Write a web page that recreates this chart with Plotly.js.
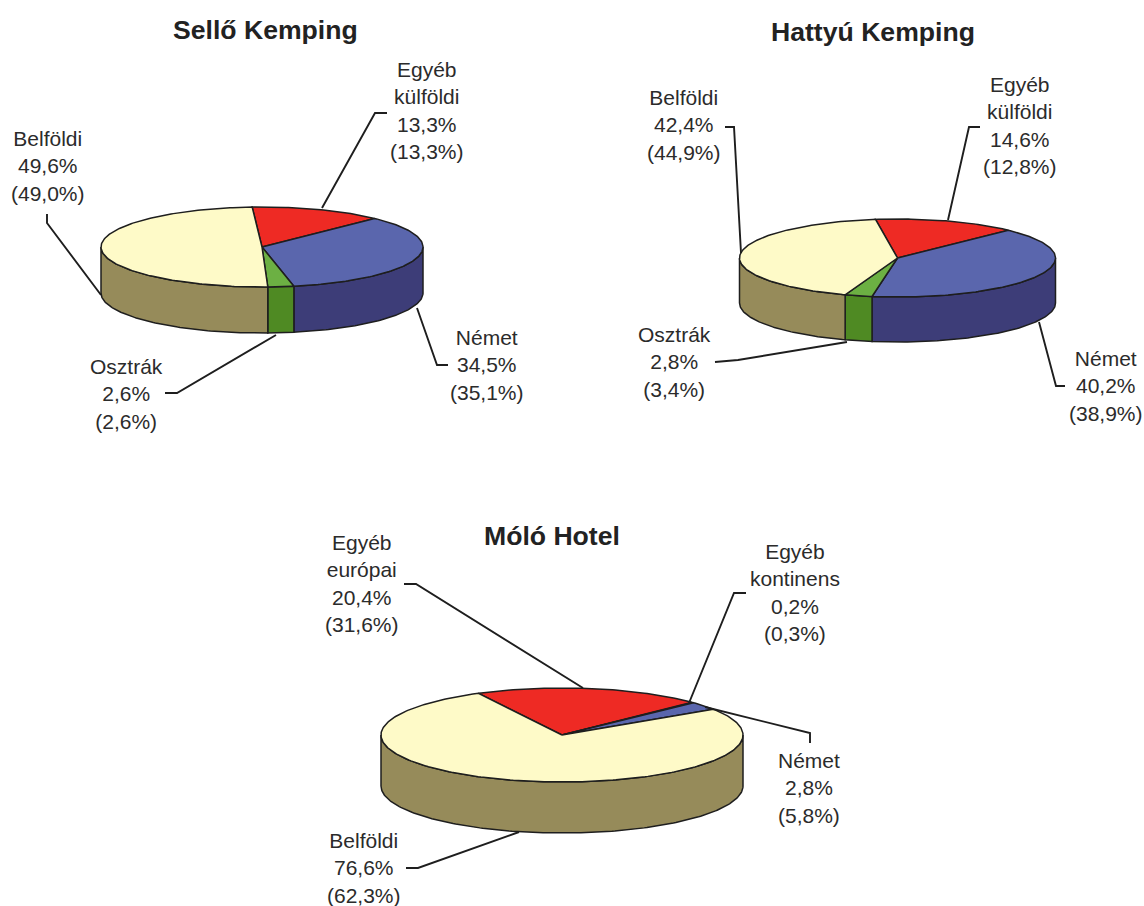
<!DOCTYPE html>
<html>
<head>
<meta charset="utf-8">
<script src="https://cdn.plot.ly/plotly-3.0.1.min.js"></script>
<style>html,body{margin:0;padding:0;background:#fff}</style>
</head>
<body>
<div id="chart" style="width:1144px;height:906px"></div>
<script>
// Data (clockwise, from each pie's first slice)
const selloNames   = ['Egyéb külföldi', 'Német', 'Osztrák', 'Belföldi'];
const selloValues  = [13.3, 34.5, 2.6, 49.6];
const selloPrev    = [13.3, 35.1, 2.6, 49.0];
const hattyuNames  = ['Egyéb külföldi', 'Német', 'Osztrák', 'Belföldi'];
const hattyuValues = [14.6, 40.2, 2.8, 42.4];
const hattyuPrev   = [12.8, 38.9, 3.4, 44.9];
const moloNames    = ['Egyéb európai', 'Egyéb kontinens', 'Német', 'Belföldi'];
const moloValues   = [20.4, 0.2, 2.8, 76.6];
const moloPrev     = [31.6, 0.3, 5.8, 62.3];

// Slice colours: [top, side]
const RED = ['#ee2a24', '#a81c18'], BLUE = ['#5a66ad', '#3d3d78'], GREEN = ['#6cb043', '#4f8a23'],
      YELLOW = ['#fefac8', '#968b5a'], DARK = ['#2f4f8a', '#2f3f70'];

// Geometry and placement (page pixels)
const pies = [
  {title: 'Sellő Kemping', tx: 265, ty: 30, names: selloNames, values: selloValues, prev: selloPrev,
   colors: [RED, BLUE, GREEN, YELLOW], cx: 262, cy: 247, rx: 161, ry: 40, depth: 46, start: -3.5,
   labels: [[427, 110.5], [487, 364.5], [126, 393.5], [48, 165.5]],
   leaders: [[[387,113],[375,113],[322,208]], [[417,308],[437,365],[448,365]],
             [[276,335],[177,393],[165,393]], [[47,214],[47,223],[101,295]]]},
  {title: 'Hattyú Kemping', tx: 873, ty: 32, names: hattyuNames, values: hattyuValues, prev: hattyuPrev,
   colors: [RED, BLUE, GREEN, YELLOW], cx: 897.5, cy: 258, rx: 158, ry: 39, depth: 45, start: -8,
   labels: [[1020, 125.5], [1106, 385.5], [674, 361.5], [684, 124.5]],
   leaders: [[[980,127],[969,127],[948,220]], [[1039,322],[1056,386],[1065,386]],
             [[847,342],[738,360],[715,362]], [[725,127],[734,127],[741,253]]]},
  {title: 'Móló Hotel', tx: 552, ty: 536, names: moloNames, values: moloValues, prev: moloPrev,
   colors: [RED, DARK, BLUE, YELLOW], cx: 562, cy: 735, rx: 181, ry: 47, depth: 51, start: -27.5,
   labels: [[362, 583], [795, 592.5], [809, 788], [364, 868]],
   leaders: [[[404,584],[416,584],[583,688]], [[746,593],[734,593],[689,703]],
             [[705,707],[810,733],[810,743]], [[519,832],[418,868],[406,868]]]}
];

const OUTLINE = '#1e1e1e', TEXT = '#2b2b2b', FONT = '"Liberation Sans", Arial, sans-serif';
const fmt = v => v.toFixed(1).replace('.', ',') + '%';

function arc(p, a0, a1, dy) {
  const xs = [], ys = [], n = Math.max(2, Math.ceil(Math.abs(a1 - a0)));
  for (let i = 0; i <= n; i++) {
    const t = (a0 + (a1 - a0) * i / n) * Math.PI / 180;
    xs.push(p.cx + p.rx * Math.sin(t));
    ys.push(p.cy - p.ry * Math.cos(t) + dy);
  }
  return [xs, ys];
}
function polygon(xs, ys, fill, name) {
  return {type: 'scatter', mode: 'lines', x: xs.concat(xs[0]), y: ys.concat(ys[0]), fill: 'toself',
    fillcolor: fill, line: {color: OUTLINE, width: 1.5}, name: name, hoverinfo: 'name', showlegend: false};
}

const sides = [], tops = [], shapes = [], annotations = [];
pies.forEach(p => {
  const total = p.values.reduce((a, b) => a + b, 0);
  let a = p.start;
  p.values.forEach((v, i) => {
    const a1 = a + v / total * 360;
    const s0 = Math.max(a, 90), s1 = Math.min(a1, 270);
    if (s1 > s0) {
      const [tx, ty] = arc(p, s0, s1, 0), [bx, by] = arc(p, s1, s0, p.depth);
      sides.push(polygon(tx.concat(bx), ty.concat(by), p.colors[i][1], p.names[i]));
    }
    const [ax, ay] = arc(p, a, a1, 0);
    tops.push(polygon([p.cx].concat(ax), [p.cy].concat(ay), p.colors[i][0], p.names[i]));
    a = a1;

    annotations.push({x: p.labels[i][0], y: p.labels[i][1], xref: 'x', yref: 'y', showarrow: false,
      xanchor: 'center', yanchor: 'middle', align: 'center',
      font: {family: FONT, size: 21, color: TEXT},
      text: p.names[i].split(' ').concat(fmt(v), '(' + fmt(p.prev[i]) + ')').join('<br>')});
    const pts = p.leaders[i];
    shapes.push({type: 'path', xref: 'x', yref: 'y', line: {color: OUTLINE, width: 1.9},
      path: pts.map((q, k) => (k ? 'L' : 'M') + q[0] + ' ' + q[1]).join(' ')});
  });
  annotations.push({x: p.tx, y: p.ty, xref: 'x', yref: 'y', showarrow: false, xanchor: 'center', yanchor: 'middle',
    font: {family: FONT, size: 26.6, color: '#222222'}, text: '<b>' + p.title + '</b>'});
});

const hidden = {visible: false, fixedrange: true};
Plotly.newPlot('chart', sides.concat(tops), {
  width: 1144, height: 906, margin: {l: 0, r: 0, t: 0, b: 0},
  paper_bgcolor: '#fff', plot_bgcolor: '#fff', showlegend: false,
  xaxis: Object.assign({range: [0, 1144]}, hidden),
  yaxis: Object.assign({range: [906, 0]}, hidden),
  shapes: shapes, annotations: annotations
}, {displayModeBar: false});
</script>
</body>
</html>
